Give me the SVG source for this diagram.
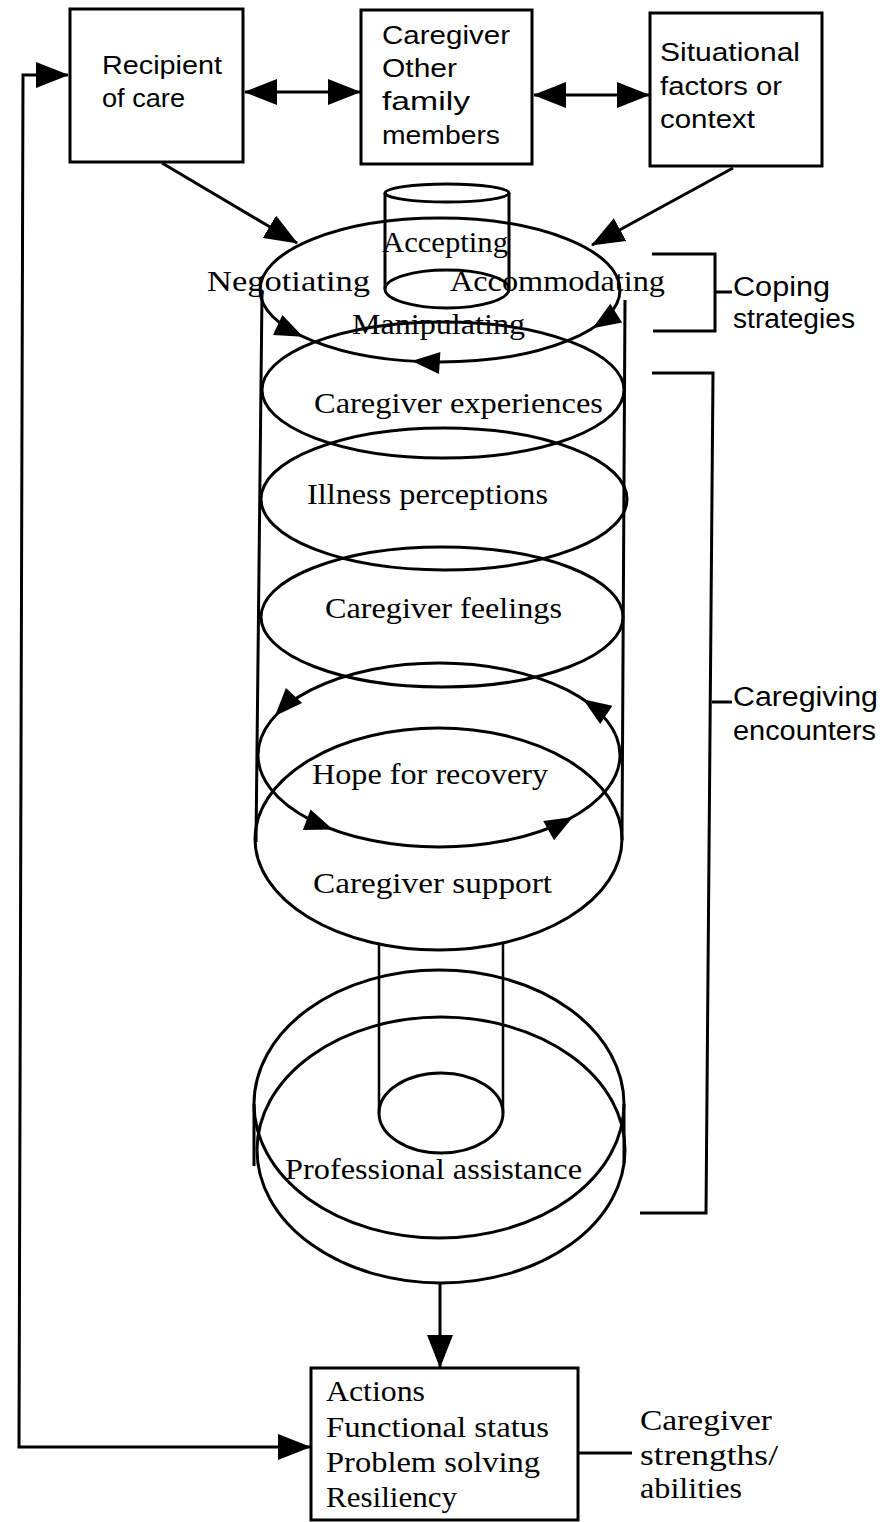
<svg xmlns="http://www.w3.org/2000/svg" width="885" height="1522" viewBox="0 0 885 1522">
  <style>
    .ln { stroke: #000; stroke-width: 3; fill: none; }
    .thin { stroke: #000; stroke-width: 2.5; fill: none; }
    .head { fill: #000; stroke: none; }
    .sans { font-family: "Liberation Sans", Arial, sans-serif; font-size: 25px; fill: #000; }
    .side { font-family: "Liberation Sans", Arial, sans-serif; font-size: 27px; fill: #000; }
    .serif { font-family: "Liberation Serif", "Times New Roman", serif; font-size: 30px; fill: #000; }
    .cond { font-family: "Liberation Serif", "Times New Roman", serif; font-size: 29px; fill: #000; }
  </style>
  <defs>
    <marker id="arrow" markerUnits="userSpaceOnUse" markerWidth="33" markerHeight="26" refX="32" refY="13" orient="auto-start-reverse">
      <path d="M0,0 L33,13 L0,26 Z" fill="#000"/>
    </marker>
  </defs>
  <rect width="885" height="1522" fill="#fff"/>

  <!-- top row boxes -->
  <g id="recipient">
    <rect class="ln" x="70" y="9" width="173" height="153"/>
    <text class="sans" x="102" y="74" textLength="120" lengthAdjust="spacingAndGlyphs">Recipient</text>
    <text class="sans" x="102" y="107" textLength="83" lengthAdjust="spacingAndGlyphs">of care</text>
  </g>
  <g id="caregiver-family">
    <rect class="ln" x="361" y="10" width="171" height="154"/>
    <text class="sans" x="382" y="44" textLength="128" lengthAdjust="spacingAndGlyphs">Caregiver</text>
    <text class="sans" x="382" y="77" textLength="75" lengthAdjust="spacingAndGlyphs">Other</text>
    <text class="sans" x="382" y="110" textLength="88" lengthAdjust="spacingAndGlyphs">family</text>
    <text class="sans" x="382" y="144" textLength="118" lengthAdjust="spacingAndGlyphs">members</text>
  </g>
  <g id="situational">
    <rect class="ln" x="650" y="13" width="172" height="153"/>
    <text class="sans" x="660" y="61" textLength="140" lengthAdjust="spacingAndGlyphs">Situational</text>
    <text class="sans" x="660" y="95" textLength="122" lengthAdjust="spacingAndGlyphs">factors or</text>
    <text class="sans" x="660" y="128" textLength="95" lengthAdjust="spacingAndGlyphs">context</text>
  </g>

  <!-- coping strategies: small cylinder and top ring -->
  <g id="coping">
    <ellipse class="ln" cx="447" cy="193" rx="62" ry="9"/>
    <path class="ln" d="M385,193 V289 M509,193 V289"/>
    <ellipse class="ln" cx="447" cy="289" rx="62" ry="19"/>
    <ellipse class="ln" cx="440" cy="290" rx="180" ry="72"/>
    <polygon class="head" points="303.1,336.8 273,334.9 282.4,314.9"/>
    <polygon class="head" points="592.6,328.2 610.3,303.8 622.1,322.4"/>
    <polygon class="head" points="411.8,361.1 440.4,351.9 439,373.9"/>
    <text class="serif" x="382" y="252" textLength="126" lengthAdjust="spacingAndGlyphs">Accepting</text>
    <text class="serif" x="207" y="291" textLength="163" lengthAdjust="spacingAndGlyphs">Negotiating</text>
    <text class="serif" x="450" y="291" textLength="215" lengthAdjust="spacingAndGlyphs">Accommodating</text>
    <text class="serif" x="352" y="334" textLength="173" lengthAdjust="spacingAndGlyphs">Manipulating</text>
  </g>

  <!-- main column of caregiving encounters -->
  <g id="column">
    <path class="ln" d="M262,293 L256,842 M625,300 L622,840"/>
  </g>
  <g id="experiences">
    <ellipse class="ln" cx="443" cy="390" rx="181" ry="68"/>
    <text class="serif" x="314" y="413" textLength="289" lengthAdjust="spacingAndGlyphs">Caregiver experiences</text>
  </g>
  <g id="illness">
    <ellipse class="ln" cx="444" cy="499" rx="183" ry="71"/>
    <text class="serif" x="307" y="504" textLength="241" lengthAdjust="spacingAndGlyphs">Illness perceptions</text>
  </g>
  <g id="feelings">
    <ellipse class="ln" cx="442" cy="617" rx="181" ry="70"/>
    <text class="serif" x="325" y="618" textLength="237" lengthAdjust="spacingAndGlyphs">Caregiver feelings</text>
  </g>
  <g id="hope">
    <ellipse class="ln" cx="439" cy="755" rx="181" ry="92"/>
    <polygon class="head" points="275,716.1 285.9,688 302.1,702.9"/>
    <polygon class="head" points="583,699.3 612.4,705.7 600.2,724"/>
    <polygon class="head" points="333,829.5 302.9,830.1 310.5,809.5"/>
    <polygon class="head" points="573,816.9 554,840.2 543.2,821"/>
    <text class="serif" x="312" y="784" textLength="236" lengthAdjust="spacingAndGlyphs">Hope for recovery</text>
  </g>
  <g id="support">
    <ellipse class="ln" cx="438.5" cy="839" rx="183.5" ry="111"/>
    <text class="serif" x="313" y="893" textLength="239" lengthAdjust="spacingAndGlyphs">Caregiver support</text>
  </g>

  <!-- professional assistance disc with narrow shaft -->
  <g id="professional">
    <path class="thin" d="M379,944 V1113 M503,944 V1113"/>
    <ellipse class="ln" cx="441" cy="1113" rx="62" ry="40"/>
    <ellipse class="ln" cx="439" cy="1104" rx="185" ry="134"/>
    <ellipse class="ln" cx="441" cy="1150" rx="184" ry="133"/>
    <path class="ln" d="M254,1104 V1166 M624,1104 V1163"/>
    <text class="serif" x="285" y="1179" textLength="297" lengthAdjust="spacingAndGlyphs">Professional assistance</text>
  </g>

  <!-- outcome box -->
  <g id="outcomes">
    <rect class="ln" x="311" y="1368" width="267" height="152"/>
    <text class="cond" x="326" y="1401" textLength="99" lengthAdjust="spacingAndGlyphs">Actions</text>
    <text class="cond" x="326" y="1437" textLength="223" lengthAdjust="spacingAndGlyphs">Functional status</text>
    <text class="cond" x="326" y="1472" textLength="214" lengthAdjust="spacingAndGlyphs">Problem solving</text>
    <text class="cond" x="326" y="1507" textLength="131" lengthAdjust="spacingAndGlyphs">Resiliency</text>
  </g>
  <g id="strengths">
    <text class="cond" x="640" y="1430" textLength="132" lengthAdjust="spacingAndGlyphs">Caregiver</text>
    <text class="cond" x="640" y="1465" textLength="138" lengthAdjust="spacingAndGlyphs">strengths/</text>
    <text class="cond" x="640" y="1498" textLength="102" lengthAdjust="spacingAndGlyphs">abilities</text>
  </g>

  <!-- side brackets -->
  <g id="brackets">
    <path class="ln" d="M652,254 H715 V331 H653 M715,292 H732"/>
    <text class="side" x="733" y="296" textLength="97" lengthAdjust="spacingAndGlyphs">Coping</text>
    <text class="side" x="733" y="328" textLength="122" lengthAdjust="spacingAndGlyphs">strategies</text>
    <path class="ln" d="M652,373 H713 L706,1213 H640 M712,702 H732"/>
    <text class="side" x="733" y="706" textLength="145" lengthAdjust="spacingAndGlyphs">Caregiving</text>
    <text class="side" x="733" y="740" textLength="143" lengthAdjust="spacingAndGlyphs">encounters</text>
  </g>

  <!-- connectors -->
  <g id="connectors">
    <path class="ln" d="M245,92 H360" marker-start="url(#arrow)" marker-end="url(#arrow)"/>
    <path class="ln" d="M534,95 H649" marker-start="url(#arrow)" marker-end="url(#arrow)"/>
    <path class="ln" d="M162,163 L297,243" marker-end="url(#arrow)"/>
    <path class="ln" d="M733,168 L592,245" marker-end="url(#arrow)"/>
    <path class="ln" d="M440,1283 V1367" marker-end="url(#arrow)"/>
    <path class="ln" d="M68,75 H23 L19,1447 H310" marker-start="url(#arrow)" marker-end="url(#arrow)"/>
    <path class="ln" d="M578,1453 H632"/>
  </g>
</svg>
